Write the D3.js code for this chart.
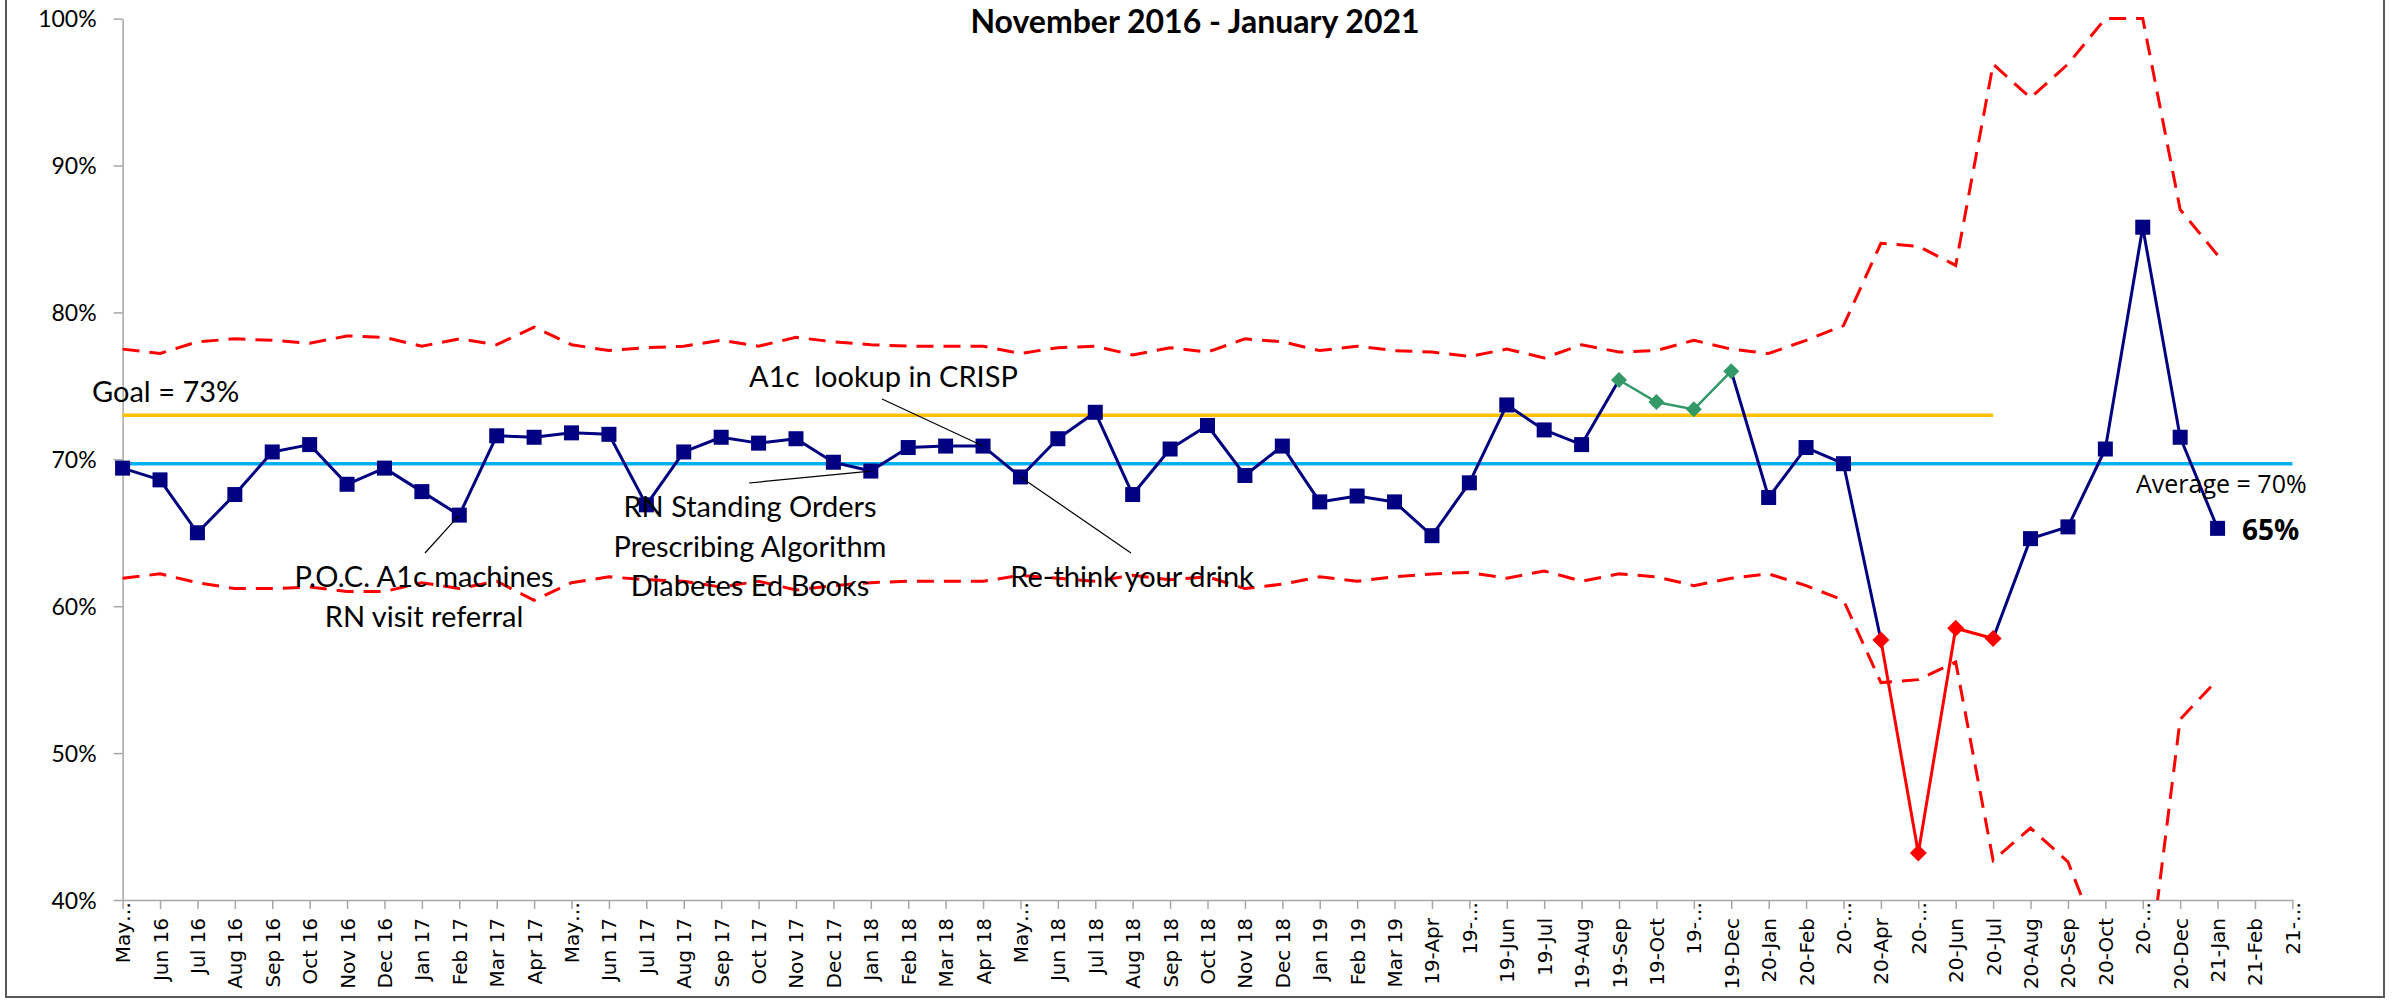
<!DOCTYPE html>
<html>
<head>
<meta charset="utf-8">
<script src="https://cdn.jsdelivr.net/npm/d3@7"></script>
<style>
  html, body { margin: 0; padding: 0; background: #fff; }
  svg { display: block; }
</style>
</head>
<body>
<svg id="chart" width="2403" height="1000"></svg>
<script>
// ---------------- DATA ----------------
const categories = ["May…","Jun 16","Jul 16","Aug 16","Sep 16","Oct 16","Nov 16","Dec 16",
  "Jan 17","Feb 17","Mar 17","Apr 17","May…","Jun 17","Jul 17","Aug 17","Sep 17","Oct 17","Nov 17","Dec 17",
  "Jan 18","Feb 18","Mar 18","Apr 18","May…","Jun 18","Jul 18","Aug 18","Sep 18","Oct 18","Nov 18","Dec 18",
  "Jan 19","Feb 19","Mar 19","19-Apr","19-…","19-Jun","19-Jul","19-Aug","19-Sep","19-Oct","19-…","19-Dec",
  "20-Jan","20-Feb","20-…","20-Apr","20-…","20-Jun","20-Jul","20-Aug","20-Sep","20-Oct","20-…","20-Dec",
  "21-Jan","21-Feb","21-…"];

// monthly percentage (A1c control), one per category until 21-Jan
const values = [69.4,68.6,65.0,67.6,70.5,71.0,68.3,69.4,67.8,66.2,71.6,71.5,71.8,71.7,66.9,70.5,71.5,71.1,71.4,69.8,
  69.2,70.8,70.9,70.9,68.8,71.4,73.2,67.6,70.7,72.3,68.9,70.9,67.1,67.5,67.1,64.8,68.4,73.7,72.0,71.0,
  75.4,73.9,73.4,76.0,67.4,70.8,69.7,57.7,43.2,58.5,57.8,64.6,65.4,70.7,85.8,71.5,65.3];

// upper / lower control limits
const ucl = [77.5,77.2,78.0,78.2,78.1,77.9,78.4,78.3,77.7,78.2,77.8,79.0,77.8,77.4,77.6,77.7,78.1,77.7,78.3,78.0,
  77.8,77.7,77.7,77.7,77.2,77.6,77.7,77.1,77.6,77.3,78.2,78.0,77.4,77.7,77.4,77.3,77.0,77.5,76.9,77.8,
  77.3,77.4,78.1,77.5,77.2,78.1,79.1,84.7,84.5,83.2,96.9,94.6,96.9,100,100,87.0,83.9];
const lcl = [61.9,62.2,61.6,61.2,61.2,61.3,61.0,61.0,61.6,61.2,61.7,60.4,61.6,62.0,61.8,61.7,61.3,61.7,61.1,61.4,
  61.6,61.7,61.7,61.7,62.1,61.9,61.7,62.1,61.8,62.0,61.2,61.5,62.0,61.7,62.0,62.2,62.3,61.9,62.4,61.7,
  62.2,62.0,61.4,61.9,62.2,61.4,60.4,54.8,55.0,56.2,42.7,44.9,42.6,36.1,31.9,52.3,55.0];

const greenIdx = [40,41,42,43];   // run above centre line
const redIdx = [47,48,49,50];     // points below lower limit
const average = 69.7;
const goal = 73;
const goalEndIdx = 50;
const yTicks = [40,50,60,70,80,90,100];

// ---------------- CHART ----------------
const svg = d3.select("#chart");
const W = 2403, H = 1000;
svg.append("rect").attr("width", W).attr("height", H).attr("fill", "#fff");
// chart border (top is cut off)
svg.append("rect").attr("x", 6).attr("y", -10).attr("width", 2378).attr("height", 1007)
  .attr("fill", "none").attr("stroke", "#595959").attr("stroke-width", 2);

const x = d3.scalePoint().domain(d3.range(categories.length)).range([122.6, 2292.4]);
const y = d3.scaleLinear().domain([40, 100]).range([900, 18.6]);

svg.append("defs").append("clipPath").attr("id", "plotclip")
  .append("rect").attr("x", 100).attr("y", 8).attr("width", 2230).attr("height", 892);

// title
svg.append("text").attr("x", 1195).attr("y", 33).attr("text-anchor", "middle")
  .attr("font-family", "Lato, sans-serif").attr("font-weight", "bold").attr("font-size", 32)
  .text("November 2016 - January 2021");

// axes
const xAxis = d3.axisBottom(x).tickSize(9).tickSizeOuter(0).tickFormat(i => categories[i]);
const gx = svg.append("g").attr("transform", "translate(0,900)").call(xAxis);
gx.select(".domain").attr("stroke", "#a6a6a6").attr("stroke-width", 1.5);
gx.selectAll(".tick line").attr("stroke", "#a6a6a6").attr("stroke-width", 1.5);
gx.selectAll(".tick text")
  .attr("font-family", "'DejaVu Sans', sans-serif").attr("font-size", 20).attr("fill", "#000")
  .attr("text-anchor", "end")
  .attr("transform", i => `translate(0,${categories[i].endsWith("…") ? 2 : 18}) rotate(-90)`)
  .attr("x", 0).attr("y", 0).attr("dy", "0.35em");

const yAxis = d3.axisLeft(y).tickValues(yTicks).tickSize(9).tickSizeOuter(0).tickFormat(d => d + "%");
const gy = svg.append("g").attr("transform", "translate(122.6,0)").call(yAxis);
gy.select(".domain").attr("stroke", "#a6a6a6").attr("stroke-width", 1.5);
gy.selectAll(".tick line").attr("stroke", "#a6a6a6").attr("stroke-width", 1.5);
gy.selectAll(".tick text").attr("font-family", "Lato, sans-serif").attr("font-size", 23)
  .attr("fill", "#000").attr("x", -26).attr("dy", "0.35em");

const line = d3.line().x(d => x(d[0])).y(d => y(d[1]));
const plot = svg.append("g").attr("clip-path", "url(#plotclip)");

// control limits
[ucl, lcl].forEach(arr => {
  plot.append("path").datum(arr.map((v, i) => [i, v])).attr("d", line)
    .attr("fill", "none").attr("stroke", "#ff0000").attr("stroke-width", 3)
    .attr("stroke-dasharray", "17,10");
});

// goal & average
plot.append("path").datum([[0, goal], [goalEndIdx, goal]]).attr("d", line)
  .attr("stroke", "#ffc000").attr("stroke-width", 3.5).attr("fill", "none");
plot.append("path").datum([[0, average], [categories.length - 1, average]]).attr("d", line)
  .attr("stroke", "#00b0f0").attr("stroke-width", 3.5).attr("fill", "none");

// main series line (segments not inside special runs)
const groupOf = i => greenIdx.includes(i) ? "g" : (redIdx.includes(i) ? "r" : null);
for (let i = 0; i < values.length - 1; i++) {
  const g1 = groupOf(i), g2 = groupOf(i + 1);
  if (g1 && g1 === g2) continue;
  svg.append("path").datum([[i, values[i]], [i + 1, values[i + 1]]]).attr("d", line)
    .attr("stroke", "#000080").attr("stroke-width", 3).attr("fill", "none")
    .attr("stroke-linecap", "round");
}
// special runs
svg.append("path").datum(greenIdx.map(i => [i, values[i]])).attr("d", line)
  .attr("stroke", "#339966").attr("stroke-width", 2.5).attr("fill", "none");
svg.append("path").datum(redIdx.map(i => [i, values[i]])).attr("d", line)
  .attr("stroke", "#ff0000").attr("stroke-width", 3).attr("fill", "none");

// markers
const normalIdx = d3.range(values.length).filter(i => !groupOf(i));
svg.append("g").selectAll("rect").data(normalIdx).join("rect")
  .attr("x", i => x(i) - 7.5).attr("y", i => y(values[i]) - 7.5)
  .attr("width", 15).attr("height", 15).attr("fill", "#000080");
const diamond = (cx, cy, r) => `M${cx},${cy - r}L${cx + r},${cy}L${cx},${cy + r}L${cx - r},${cy}Z`;
svg.append("g").selectAll("path").data(greenIdx).join("path")
  .attr("d", i => diamond(x(i), y(values[i]), 8)).attr("fill", "#339966");
svg.append("g").selectAll("path").data(redIdx).join("path")
  .attr("d", i => diamond(x(i), y(values[i]), 8.5)).attr("fill", "#ff0000");

// ---------------- ANNOTATIONS ----------------
const ann = svg.append("g").attr("font-family", "Lato, sans-serif").attr("font-size", 29).attr("fill", "#000");
function textBlock(lines, cx, y0, step, anchor) {
  lines.forEach((t, k) => {
    ann.append("text").attr("x", cx).attr("y", y0 + k * step).attr("text-anchor", anchor)
      .style("white-space", "pre").text(t);
  });
}
textBlock(["Goal = 73%"], 92, 402, 0, "start");
textBlock(["A1c  lookup in CRISP"], 749, 387, 0, "start");
textBlock(["P.O.C. A1c machines", "RN visit referral"], 424, 587, 40, "middle");
textBlock(["RN Standing Orders", "Prescribing Algorithm", "Diabetes Ed Books"], 750, 517, 39.5, "middle");
textBlock(["Re-think your drink"], 1132, 587, 0, "middle");

const leader = (x1, y1, x2, y2) => svg.append("line").attr("x1", x1).attr("y1", y1)
  .attr("x2", x2).attr("y2", y2).attr("stroke", "#000").attr("stroke-width", 1.2);
leader(425, 553, x(9), y(values[9]));
leader(749, 483, x(20), y(values[20]));
leader(882, 399, x(23), y(values[23]));
leader(x(24), y(values[24]), 1131, 553);

svg.append("text").attr("x", 2136).attr("y", 493).attr("font-family", "'Open Sans', sans-serif")
  .attr("font-size", 25).text("Average = 70%");
svg.append("text").attr("x", 2242).attr("y", 540).attr("font-family", "'Open Sans', sans-serif")
  .attr("font-weight", "bold").attr("font-size", 28).text("65%");
</script>
</body>
</html>
